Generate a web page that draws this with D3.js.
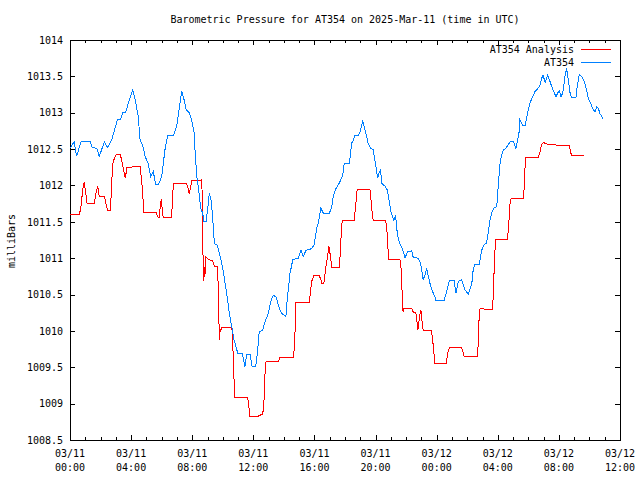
<!DOCTYPE html>
<html>
<head>
<meta charset="utf-8">
<script src="https://cdn.jsdelivr.net/npm/d3@7"></script>
<style>
  html, body { margin: 0; padding: 0; background: #fff; }
  svg { display: block; }
  text { font-family: "DejaVu Sans Mono", "Liberation Mono", monospace; font-size: 10px; fill: #000; }
</style>
</head>
<body>
<svg id="chart" width="640" height="480"></svg>
<script>
// ---------------- DATA ----------------
const chartTitle = "Barometric Pressure for AT354 on 2025-Mar-11 (time in UTC)";
const yAxisLabel = "milliBars";
const seriesNames = ["AT354 Analysis", "AT354"];
const seriesColors = ["#ff0000", "#0080ff"];
const startTime = "2025-03-11T00:00:00Z";
const endTime = "2025-03-12T12:00:00Z";
const yTickValues = [1008.5, 1009, 1009.5, 1010, 1010.5, 1011, 1011.5, 1012, 1012.5, 1013, 1013.5, 1014];
const xMajorHours = [0, 4, 8, 12, 16, 20, 24, 28, 32, 36];
const xTickLabels = [["03/11","00:00"],["03/11","04:00"],["03/11","08:00"],["03/11","12:00"],["03/11","16:00"],["03/11","20:00"],["03/12","00:00"],["03/12","04:00"],["03/12","08:00"],["03/12","12:00"]];

// AT354 Analysis (minutes after start, millibars)
const analysisMinutes = [
  0,37,43,50,56,60,67,95,102,109,
  115,135,141,148,158,161,165,168,174,181,
  198,204,211,217,224,276,280,285,288,289,
  338,344,351,355,359,361,366,399,403,406,
  458,465,468,474,478,513,517,520,521,523,
  526,527,530,534,539,543,560,567,578,582,
  585,586,589,592,597,635,639,641,645,648,
  698,703,707,737,743,757,762,766,770,818,
  825,877,881,884,887,940,945,949,958,979,
  986,988,997,1005,1012,1017,1024,1028,1058,1060,
  1063,1069,1116,1120,1128,1178,1182,1187,1191,1240,
  1243,1248,1250,1296,1300,1303,1307,1308,1311,1342,
  1348,1358,1362,1366,1371,1374,1378,1381,1385,1387,
  1418,1423,1427,1431,1433,1477,1482,1486,1492,1538,
  1544,1548,1600,1603,1606,1610,1617,1634,1658,1662,
  1665,1669,1673,1717,1721,1724,1728,1732,1780,1784,
  1787,1791,1839,1846,1852,1859,1872,1905,1911,1961,
  1966,1970,2020];
const analysisValues = [
  1011.60,1011.60,1011.71,1011.94,1012.05,1011.94,1011.75,1011.75,1011.89,1011.99,
  1011.85,1011.85,1011.75,1011.66,1011.66,1011.82,1012.12,1012.30,1012.37,1012.42,
  1012.42,1012.33,1012.21,1012.10,1012.25,1012.26,1012.10,1011.94,1011.73,1011.63,
  1011.63,1011.57,1011.56,1011.75,1011.81,1011.71,1011.56,1011.56,1011.85,1012.03,
  1012.03,1011.94,1011.88,1011.98,1012.07,1012.07,1012.08,1011.80,1011.39,1010.91,
  1010.68,1010.88,1010.77,1011.02,1011.00,1010.98,1010.97,1010.89,1010.88,1010.65,
  1010.15,1009.88,1009.99,1010.01,1010.05,1010.05,1009.92,1009.60,1009.26,1009.09,
  1009.09,1008.94,1008.82,1008.82,1008.84,1008.85,1009.05,1009.42,1009.58,1009.58,
  1009.64,1009.64,1009.76,1010.01,1010.39,1010.39,1010.56,1010.68,1010.76,1010.76,
  1010.70,1010.65,1010.65,1010.88,1011.04,1011.16,1011.00,1010.87,1010.87,1010.98,
  1011.20,1011.52,1011.52,1011.66,1011.95,1011.95,1011.80,1011.62,1011.52,1011.52,
  1011.43,1011.25,1010.98,1010.98,1010.86,1010.61,1010.38,1010.26,1010.31,1010.31,
  1010.26,1010.25,1010.15,1010.01,1010.15,1010.22,1010.29,1010.17,1010.08,1010.01,
  1010.01,1009.92,1009.78,1009.62,1009.55,1009.55,1009.65,1009.74,1009.77,1009.77,
  1009.71,1009.65,1009.65,1009.81,1010.13,1010.30,1010.31,1010.29,1010.29,1010.45,
  1010.77,1011.11,1011.26,1011.26,1011.36,1011.52,1011.75,1011.82,1011.82,1011.98,
  1012.24,1012.39,1012.39,1012.46,1012.56,1012.59,1012.57,1012.56,1012.55,1012.55,
  1012.46,1012.41,1012.41];

// AT354 observations (minutes after start, millibars)
const obsMinutes = [
  2,16,26,43,79,88,105,115,135,148,
  164,177,186,199,207,219,229,238,246,255,
  268,275,285,295,307,317,327,337,347,360,
  373,384,406,419,428,439,448,456,468,478,
  488,491,498,504,513,521,526,534,541,547,
  554,559,567,578,586,596,605,615,626,635,
  644,652,659,677,687,694,707,715,729,736,
  743,757,766,779,788,798,809,822,831,848,
  853,864,875,897,907,916,927,949,958,969,
  975,985,995,1018,1028,1034,1045,1054,1060,1071,
  1077,1097,1102,1106,1113,1119,1132,1139,1146,1149,
  1155,1165,1171,1181,1191,1198,1204,1208,1213,1220,
  1224,1237,1246,1253,1259,1267,1272,1279,1283,1289,
  1296,1307,1316,1325,1342,1348,1368,1377,1381,1387,
  1394,1401,1407,1414,1424,1433,1437,1469,1479,1490,
  1508,1516,1525,1538,1551,1565,1578,1584,1590,1607,
  1617,1626,1636,1643,1649,1656,1665,1676,1682,1689,
  1695,1702,1712,1721,1731,1741,1751,1757,1765,1767,
  1774,1778,1787,1793,1800,1806,1817,1826,1835,1846,
  1852,1858,1866,1876,1882,1892,1901,1909,1915,1922,
  1928,1935,1944,1950,1957,1964,1970,1987,1992,2000,
  2009,2020,2029,2035,2042,2053,2062,2068,2075,2081,
  2088,2092];
const obsValues = [
  1012.52,1012.60,1012.40,1012.60,1012.60,1012.52,1012.51,1012.40,1012.60,1012.52,
  1012.63,1012.79,1012.90,1012.91,1013.00,1013.01,1013.13,1013.22,1013.31,1013.20,
  1012.95,1012.63,1012.56,1012.40,1012.30,1012.12,1012.19,1012.01,1012.01,1012.12,
  1012.49,1012.69,1012.69,1012.81,1013.04,1013.30,1013.18,1013.04,1013.00,1012.90,
  1012.72,1012.49,1012.12,1011.98,1011.69,1011.62,1011.50,1011.50,1011.69,1011.89,
  1011.80,1011.62,1011.20,1011.18,1011.07,1010.93,1010.75,1010.52,1010.24,1010.06,
  1009.88,1009.78,1009.69,1009.69,1009.51,1009.67,1009.68,1009.51,1009.51,1009.69,
  1009.99,1010.01,1010.13,1010.24,1010.40,1010.49,1010.47,1010.31,1010.24,1010.20,
  1010.43,1010.79,1010.98,1011.00,1011.11,1011.02,1011.11,1011.13,1011.18,1011.41,
  1011.48,1011.69,1011.62,1011.61,1011.71,1011.85,1011.96,1012.01,1012.05,1012.14,
  1012.30,1012.30,1012.44,1012.58,1012.62,1012.69,1012.69,1012.74,1012.83,1012.90,
  1012.81,1012.67,1012.58,1012.51,1012.49,1012.33,1012.21,1012.10,1012.17,1012.21,
  1012.03,1011.99,1011.94,1011.80,1011.66,1011.57,1011.52,1011.59,1011.41,1011.27,
  1011.20,1011.11,1011.00,1011.09,1011.10,1011.01,1011.00,1010.93,1010.84,1010.70,
  1010.77,1010.86,1010.75,1010.65,1010.54,1010.47,1010.42,1010.42,1010.54,1010.70,
  1010.70,1010.52,1010.68,1010.70,1010.56,1010.51,1010.65,1010.86,1010.91,1010.91,
  1011.11,1011.18,1011.21,1011.36,1011.52,1011.62,1011.69,1011.71,1012.01,1012.30,
  1012.42,1012.49,1012.51,1012.56,1012.61,1012.61,1012.51,1012.60,1012.76,1012.90,
  1012.85,1012.82,1012.82,1012.92,1013.04,1013.13,1013.22,1013.29,1013.32,1013.38,
  1013.47,1013.52,1013.41,1013.52,1013.46,1013.36,1013.28,1013.22,1013.27,1013.30,
  1013.22,1013.27,1013.50,1013.61,1013.45,1013.27,1013.21,1013.21,1013.36,1013.52,
  1013.50,1013.43,1013.31,1013.20,1013.15,1013.06,1013.01,1013.08,1013.06,1012.99,
  1012.95,1012.91];

// ---------------- CHART ----------------
const svg = d3.select("#chart");
const plot = { left: 70, right: 620, top: 40, bottom: 440 };
const t0 = new Date(startTime).getTime();
const toDate = m => new Date(t0 + m * 60000);

const x = d3.scaleUtc().domain([new Date(startTime), new Date(endTime)]).range([plot.left, plot.right]);
const y = d3.scaleLinear().domain([1008.5, 1014]).range([plot.bottom, plot.top]);

const majorDates = xMajorHours.map(h => toDate(h * 60));
const minorDates = d3.range(0, 37).filter(h => h % 4 !== 0).map(h => toDate(h * 60));

function styleAxis(g) {
  g.select(".domain").remove();
  g.selectAll("line").attr("stroke", "#000").attr("shape-rendering", "crispEdges");
}

// bottom axis
svg.append("g").attr("transform", `translate(0,${plot.bottom})`)
  .call(d3.axisBottom(x).tickValues(majorDates).tickSize(-5).tickFormat(""))
  .call(styleAxis);
svg.append("g").attr("transform", `translate(0,${plot.bottom})`)
  .call(d3.axisBottom(x).tickValues(minorDates).tickSize(-3).tickFormat(""))
  .call(styleAxis);
// top axis
svg.append("g").attr("transform", `translate(0,${plot.top})`)
  .call(d3.axisTop(x).tickValues(majorDates).tickSize(-5).tickFormat(""))
  .call(styleAxis);
svg.append("g").attr("transform", `translate(0,${plot.top})`)
  .call(d3.axisTop(x).tickValues(minorDates).tickSize(-3).tickFormat(""))
  .call(styleAxis);
// left axis
const fmtY = v => Number.isInteger(v) ? String(v) : v.toFixed(1);
const leftAxis = svg.append("g").attr("transform", `translate(${plot.left},0)`)
  .call(d3.axisLeft(y).tickValues(yTickValues).tickSize(-5).tickPadding(7).tickFormat(fmtY))
  .call(styleAxis);
leftAxis.selectAll("text").attr("font-family", null).attr("font-size", null).attr("fill", "#000");
// right axis
svg.append("g").attr("transform", `translate(${plot.right},0)`)
  .call(d3.axisRight(y).tickValues(yTickValues).tickSize(-5).tickFormat(""))
  .call(styleAxis);

// x tick labels (two lines)
const xl = svg.append("g");
majorDates.forEach((d, i) => {
  const t = xl.append("text").attr("text-anchor", "middle");
  t.append("tspan").attr("x", x(d)).attr("y", 457).text(xTickLabels[i][0]);
  t.append("tspan").attr("x", x(d)).attr("y", 471).text(xTickLabels[i][1]);
});

// frame
svg.append("rect")
  .attr("x", plot.left).attr("y", plot.top)
  .attr("width", plot.right - plot.left).attr("height", plot.bottom - plot.top)
  .attr("fill", "none").attr("stroke", "#000").attr("shape-rendering", "crispEdges");

// lines
const line = d3.line().x(d => x(d[0])).y(d => y(d[1]));
const analysisData = analysisMinutes.map((m, i) => [toDate(m), analysisValues[i]]);
const obsData = obsMinutes.map((m, i) => [toDate(m), obsValues[i]]);

svg.append("path").datum(analysisData).attr("d", line)
  .attr("fill", "none").attr("stroke", seriesColors[0]).attr("stroke-width", 1)
  .attr("shape-rendering", "crispEdges");
svg.append("path").datum(obsData).attr("d", line)
  .attr("fill", "none").attr("stroke", seriesColors[1]).attr("stroke-width", 1)
  .attr("shape-rendering", "crispEdges");

// title
svg.append("text").attr("x", 345).attr("y", 23).attr("text-anchor", "middle").text(chartTitle);

// y label
svg.append("text").attr("transform", "translate(15,241) rotate(-90)")
  .attr("text-anchor", "middle").text(yAxisLabel);

// legend
const legendY = [49, 62];
seriesNames.forEach((name, i) => {
  svg.append("text").attr("x", 574).attr("y", legendY[i] + 4)
    .attr("text-anchor", "end").text(name);
  svg.append("line").attr("x1", 581).attr("x2", 611)
    .attr("y1", legendY[i]).attr("y2", legendY[i])
    .attr("stroke", seriesColors[i]).attr("stroke-width", 1)
    .attr("shape-rendering", "crispEdges");
});
</script>
</body>
</html>
